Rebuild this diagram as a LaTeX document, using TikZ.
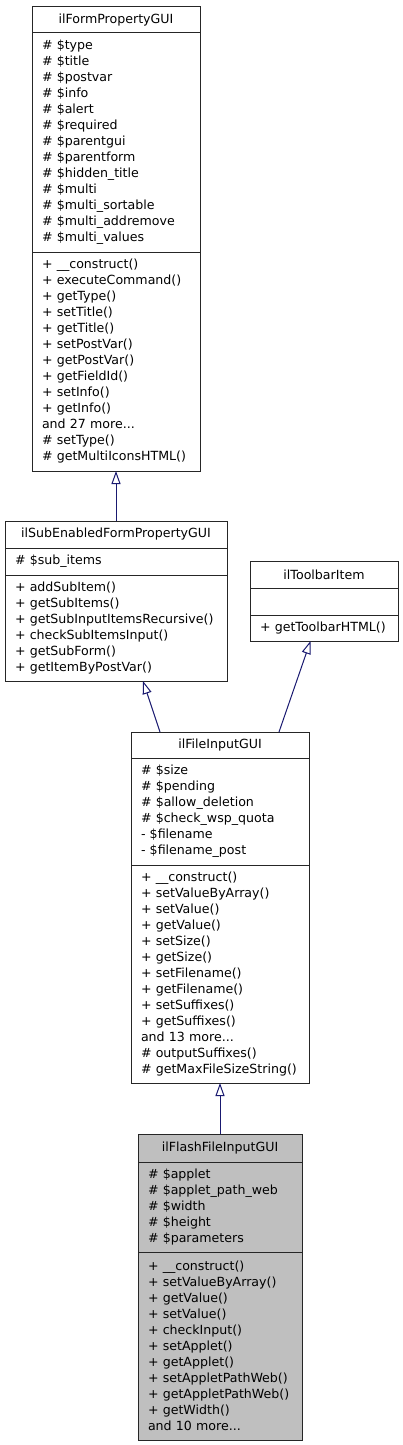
\documentclass[tikz,border=0pt]{standalone}
\usepackage{fontspec}
\setmainfont{DejaVu Sans}
\usetikzlibrary{arrows.meta,positioning}
\definecolor{edgeblue}{RGB}{25,25,112}
\definecolor{boxgray}{RGB}{191,191,191}

\begin{document}
\begin{tikzpicture}[x=1pt,y=-1pt,
    part/.style={draw=black!85,rectangle,line width=1pt,inner xsep=10pt,inner ysep=0pt,outer sep=0pt,align=left,font=\fontsize{12.6}{16}\selectfont},
    titlepart/.style={part,align=center},
    inherit/.style={draw=edgeblue,line width=1pt,-{Triangle[open,length=13pt,width=9pt,fill=white]}}]
    \useasboundingbox (0,0) rectangle (403,1445);

    \node[titlepart,anchor=north west,text width=148pt,minimum height=26pt] at (32,7) (c1title) {ilFormPropertyGUI};
    \node[part,below=0pt of c1title,text width=148pt,minimum height=219pt] (c1attr) {\# \$type\\\# \$title\\\# \$postvar\\\# \$info\\\# \$alert\\\# \$required\\\# \$parentgui\\\# \$parentform\\\# \$hidden\_title\\\# \$multi\\\# \$multi\_sortable\\\# \$multi\_addremove\\\# \$multi\_values};
    \node[part,below=0pt of c1attr,text width=148pt,minimum height=219pt] (c1meth) {+ \_\_construct()\\+ executeCommand()\\+ getType()\\+ setTitle()\\+ getTitle()\\+ setPostVar()\\+ getPostVar()\\+ getFieldId()\\+ setInfo()\\+ getInfo()\\and 27 more...\\\# setType()\\\# getMultiIconsHTML()};

    \node[titlepart,anchor=north west,text width=202pt,minimum height=27pt] at (5,521) (c2title) {ilSubEnabledFormPropertyGUI};
    \node[part,below=0pt of c2title,text width=202pt,minimum height=27pt] (c2attr) {\# \$sub\_items};
    \node[part,below=0pt of c2attr,text width=202pt,minimum height=106pt] (c2meth) {+ addSubItem()\\+ getSubItems()\\+ getSubInputItemsRecursive()\\+ checkSubItemsInput()\\+ getSubForm()\\+ getItemByPostVar()};

    \node[titlepart,anchor=north west,text width=128pt,minimum height=27pt] at (250,561) (c3title) {ilToolbarItem};
    \node[part,below=0pt of c3title,text width=128pt,minimum height=27pt] (c3attr) {};
    \node[part,below=0pt of c3attr,text width=128pt,minimum height=26pt] (c3meth) {+ getToolbarHTML()};

    \node[titlepart,anchor=north west,text width=158pt,minimum height=26pt] at (131,732) (c4title) {ilFileInputGUI};
    \node[part,below=0pt of c4title,text width=158pt,minimum height=107pt] (c4attr) {\# \$size\\\# \$pending\\\# \$allow\_deletion\\\# \$check\_wsp\_quota\\- \$filename\\- \$filename\_post};
    \node[part,below=0pt of c4attr,text width=158pt,minimum height=218pt] (c4meth) {+ \_\_construct()\\+ setValueByArray()\\+ setValue()\\+ getValue()\\+ setSize()\\+ getSize()\\+ setFilename()\\+ getFilename()\\+ setSuffixes()\\+ getSuffixes()\\and 13 more...\\\# outputSuffixes()\\\# getMaxFileSizeString()};

    \node[titlepart,fill=boxgray,anchor=north west,text width=144pt,minimum height=28pt] at (138,1134) (c5title) {ilFlashFileInputGUI};
    \node[part,fill=boxgray,below=0pt of c5title,text width=144pt,minimum height=90pt] (c5attr) {\# \$applet\\\# \$applet\_path\_web\\\# \$width\\\# \$height\\\# \$parameters};
    \node[part,fill=boxgray,below=0pt of c5attr,text width=144pt,minimum height=188pt] (c5meth) {+ \_\_construct()\\+ setValueByArray()\\+ getValue()\\+ setValue()\\+ checkInput()\\+ setApplet()\\+ getApplet()\\+ setAppletPathWeb()\\+ getAppletPathWeb()\\+ getWidth()\\and 10 more...};

    \draw[inherit] (c2title.north) -- (c1meth.south);
    \draw[inherit] ([xshift=29pt]c4title.north west) -- ([xshift=138pt]c2meth.south west);
    \draw[inherit] ([xshift=148pt]c4title.north west) -- ([xshift=60.5pt]c3meth.south west);
    \draw[inherit] (c5title.north) -- (c4meth.south);
\end{tikzpicture}
\end{document}
